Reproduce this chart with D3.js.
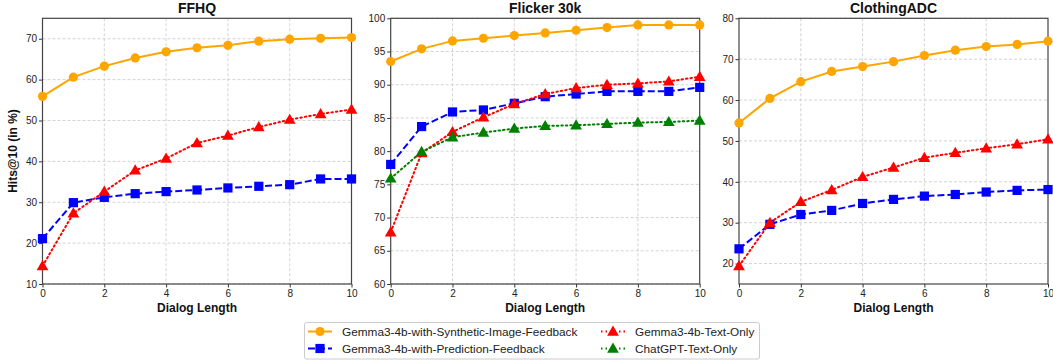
<!DOCTYPE html>
<html><head><meta charset="utf-8">
<script src="https://cdn.jsdelivr.net/npm/d3@7"></script>
<style>body{margin:0;background:#fff}svg{display:block;font-family:"Liberation Sans",Arial,sans-serif}</style>
</head><body><svg id="c" width="1053" height="362"></svg>
<script>
const steps = [0,1,2,3,4,5,6,7,8,9,10];
const xTicks = [0,2,4,6,8,10];
const panelTitles = ["FFHQ","Flicker 30k","ClothingADC"];
const yDomains = [[10,75],[60,100],[15,80]];
const yTickVals = [[10,20,30,40,50,60,70],[60,65,70,75,80,85,90,95,100],[20,30,40,50,60,70,80]];
const seriesNames = ["Gemma3-4b-with-Synthetic-Image-Feedback","Gemma3-4b-with-Prediction-Feedback","Gemma3-4b-Text-Only","ChatGPT-Text-Only"];
// FFHQ
const ffhqSynthetic = [55.9,60.6,63.3,65.3,66.8,67.8,68.4,69.4,69.9,70.1,70.3];
const ffhqPrediction = [21.1,29.9,31.2,32.1,32.6,33.0,33.5,33.9,34.3,35.7,35.7];
const ffhqTextOnly = [14.4,27.3,32.6,37.8,40.7,44.5,46.3,48.4,50.2,51.6,52.7];
// Flicker 30k
const flickrSynthetic = [93.5,95.4,96.6,97.0,97.4,97.8,98.2,98.6,99.0,99.0,99.0];
const flickrPrediction = [78.0,83.7,85.9,86.2,87.2,88.2,88.6,89.0,89.0,89.0,89.6];
const flickrTextOnly = [67.8,79.7,82.9,85.1,87.1,88.6,89.5,90.0,90.2,90.5,91.2];
const flickrChatGPT = [75.9,79.9,82.1,82.8,83.4,83.8,83.9,84.1,84.3,84.4,84.6];
// ClothingADC
const clothSynthetic = [54.4,60.4,64.5,67.0,68.2,69.4,70.9,72.2,73.1,73.6,74.4];
const clothPrediction = [23.6,29.6,32.0,33.0,34.7,35.7,36.5,36.9,37.5,37.9,38.1];
const clothTextOnly = [19.4,30.0,35.1,38.0,41.2,43.5,45.9,47.1,48.2,49.2,50.4];

const styles = [
  {color:"#FFA500", dash:null, marker:"circle"},
  {color:"#0000FF", dash:"7,3", marker:"square"},
  {color:"#FF0000", dash:"1.5,3", marker:"triangle"},
  {color:"#008000", dash:"1.5,3", marker:"triangle"}
];
const panelData = [
  [ffhqSynthetic, ffhqPrediction, ffhqTextOnly, null],
  [flickrSynthetic, flickrPrediction, flickrTextOnly, flickrChatGPT],
  [clothSynthetic, clothPrediction, clothTextOnly, null]
];
const panelLefts = [42.5, 390.7, 739];
const pw = 309, plotTop = 18.3, plotBottom = 284;
const svg = d3.select("#c");

function drawMarker(g, type, x, y, color){
  if(type==="circle") g.append("circle").attr("cx",x).attr("cy",y).attr("r",4.6).attr("fill",color);
  else if(type==="square") g.append("rect").attr("x",x-4.6).attr("y",y-4.6).attr("width",9.2).attr("height",9.2).attr("fill",color);
  else g.append("path").attr("d",d3.symbol(d3.symbolTriangle,60)()).attr("transform",`translate(${x},${y+0.8})`).attr("fill",color);
}

panelTitles.forEach((t,i)=>{
  const x = d3.scaleLinear().domain([0,10]).range([panelLefts[i], panelLefts[i]+pw]);
  const y = d3.scaleLinear().domain(yDomains[i]).range([plotBottom, plotTop]);
  const g = svg.append("g");
  g.append("g").selectAll("line").data(xTicks.slice(1,-1)).join("line")
    .attr("x1",d=>x(d)).attr("x2",d=>x(d)).attr("y1",plotTop).attr("y2",plotBottom)
    .attr("stroke","#c8c8c8").attr("stroke-width",0.8).attr("stroke-dasharray","3,2");
  g.append("g").selectAll("line").data(yTickVals[i]).join("line")
    .attr("x1",x(0)).attr("x2",x(10)).attr("y1",d=>y(d)).attr("y2",d=>y(d))
    .attr("stroke","#c8c8c8").attr("stroke-width",0.8).attr("stroke-dasharray","3,2");
  const xa = g.append("g").attr("transform",`translate(0,${plotBottom})`)
    .call(d3.axisBottom(x).tickValues(xTicks).tickSize(3.5).tickPadding(2));
  const ya = g.append("g").attr("transform",`translate(${x(0)},0)`)
    .call(d3.axisLeft(y).tickValues(yTickVals[i]).tickSize(3.5).tickPadding(2));
  [xa,ya].forEach(a=>{
    a.select(".domain").remove();
    a.selectAll("line").attr("stroke","#333");
    a.selectAll("text").attr("font-size",10).attr("fill","#222").attr("font-family","Liberation Sans, Arial, sans-serif");
  });
  g.append("rect").attr("x",x(0)).attr("y",plotTop).attr("width",pw).attr("height",plotBottom-plotTop)
    .attr("fill","none").attr("stroke","#444").attr("stroke-width",1.2);
  panelData[i].forEach((vals,s)=>{
    if(!vals) return;
    const st = styles[s];
    g.append("path").datum(vals).attr("d", d3.line().x((d,k)=>x(steps[k])).y(d=>y(d)))
      .attr("fill","none").attr("stroke",st.color).attr("stroke-width",2)
      .attr("stroke-dasharray",st.dash).attr("stroke-linecap", s>=2?"round":"butt");
    vals.forEach((v,k)=>drawMarker(g, st.marker, x(steps[k]), y(v), st.color));
  });
  svg.append("text").attr("x",x(5)).attr("y",13).attr("text-anchor","middle")
    .attr("font-size",14).attr("font-weight","bold").attr("fill","#111").text(t);
  svg.append("text").attr("x",x(5)).attr("y",312).attr("text-anchor","middle")
    .attr("font-size",12).attr("font-weight","bold").attr("fill","#111").text("Dialog Length");
});
svg.append("text").attr("transform","translate(17,151) rotate(-90)").attr("text-anchor","middle")
  .attr("font-size",12).attr("font-weight","bold").attr("fill","#111").text("Hits@10 (in %)");

const lg = svg.append("g");
lg.append("rect").attr("x",304.5).attr("y",322.5).attr("width",455).attr("height",36.5).attr("rx",2)
  .attr("fill","#fff").attr("stroke","#ccc").attr("stroke-width",1);
const legPos = [[308,331.5],[308,348.5],[601,331.5],[601,348.5]];
seriesNames.forEach((n,s)=>{
  const [lx,ly] = legPos[s]; const st = styles[s];
  lg.append("line").attr("x1",lx).attr("x2",lx+24).attr("y1",ly).attr("y2",ly)
    .attr("stroke",st.color).attr("stroke-width",2).attr("stroke-dasharray",st.dash);
  drawMarker(lg, st.marker, lx+12, ly, st.color);
  lg.append("text").attr("x",lx+34).attr("y",ly+4).attr("font-size",11.8).attr("fill","#222").text(n);
});
</script></body></html>
